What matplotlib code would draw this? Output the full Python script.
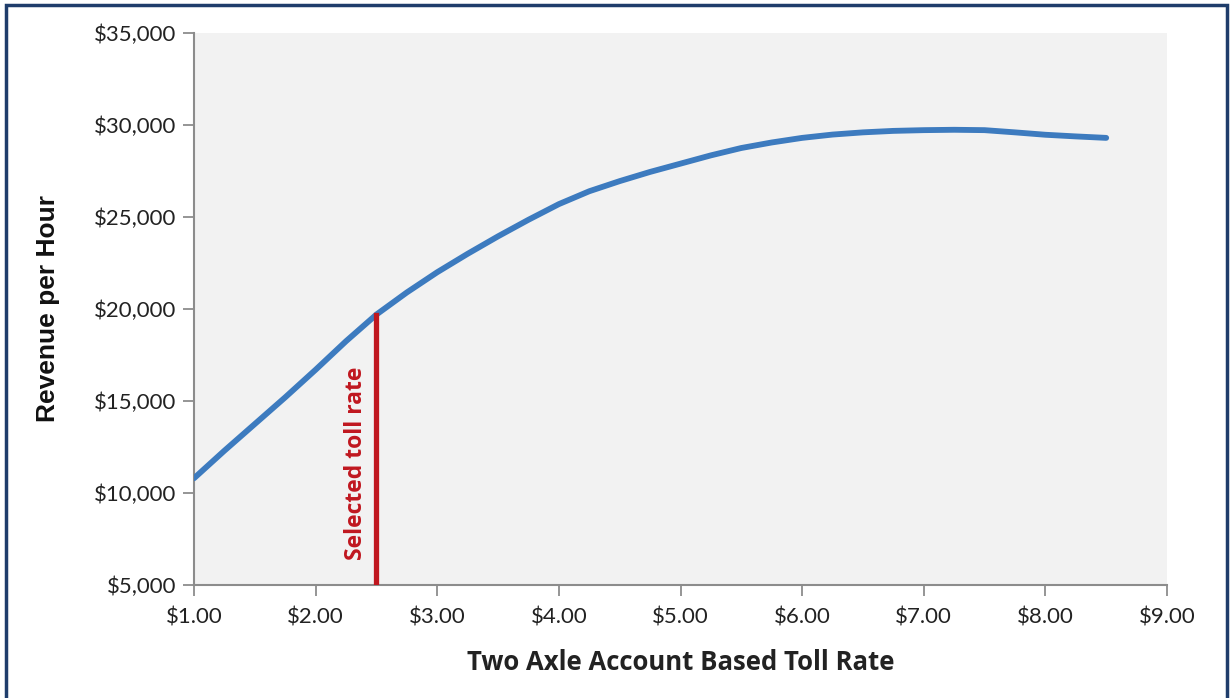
import matplotlib.pyplot as plt
from matplotlib.patches import Rectangle
from matplotlib.ticker import FuncFormatter

toll_rate = [1.00, 1.25, 1.50, 1.75, 2.00, 2.25, 2.50, 2.75, 3.00, 3.25, 3.50, 3.75,
             4.00, 4.25, 4.50, 4.75, 5.00, 5.25, 5.50, 5.75, 6.00, 6.25, 6.50, 6.75,
             7.00, 7.25, 7.50, 7.75, 8.00, 8.25, 8.50]
revenue = [10800, 12300, 13750, 15200, 16700, 18250, 19700, 20900, 22000, 23000, 23950, 24850,
           25700, 26400, 26950, 27450, 27900, 28350, 28750, 29050, 29300, 29480, 29600, 29680,
           29720, 29740, 29720, 29600, 29470, 29380, 29300]
selected_rate = 2.5
selected_revenue = revenue[toll_rate.index(selected_rate)]

line_color = "#3D7BBF"
red = "#C0171F"
tick_font = "Lato"

fig = plt.figure(figsize=(12.3, 6.98), dpi=100)
ax = fig.add_axes([194 / 1230, 1 - 585 / 698, (1167 - 194) / 1230, (585 - 33) / 698])
ax.set_facecolor("#F2F2F2")

ax.plot(toll_rate, revenue, color=line_color, lw=4.2, solid_capstyle="round",
        solid_joinstyle="round", zorder=3)
ax.plot([selected_rate, selected_rate], [5000, selected_revenue], color=red, lw=3.8, zorder=4)
ax.text(2.33, 11600, "Selected toll rate", rotation=90, color=red, fontsize=16.5,
        fontweight="bold", family="Open Sans", ha="center", va="center")

ax.set_xlim(1, 9)
ax.set_ylim(5000, 35000)
ax.set_xticks(range(1, 10))
ax.set_yticks(range(5000, 35001, 5000))
ax.xaxis.set_major_formatter(FuncFormatter(lambda v, p: f"${v:.2f}"))
ax.yaxis.set_major_formatter(FuncFormatter(lambda v, p: f"${v:,.0f}"))

for side in ["top", "right"]:
    ax.spines[side].set_visible(False)
for side in ["left", "bottom"]:
    ax.spines[side].set_color("#8C8C8C")
    ax.spines[side].set_linewidth(1.5)
ax.tick_params(axis="both", colors="#8C8C8C", length=8, width=1.3, direction="out",
               labelcolor="#222222", labelsize=16)
ax.tick_params(axis="x", pad=8)
ax.tick_params(axis="y", pad=5)
for lab in ax.get_xticklabels() + ax.get_yticklabels():
    lab.set_family(tick_font)

ax.set_xlabel("Two Axle Account Based Toll Rate", fontsize=18.5, fontweight="bold",
              family="Open Sans", color="#222222", labelpad=16)
ax.set_ylabel("Revenue per Hour", fontsize=19, fontweight="bold",
              family="Liberation Sans", color="#111111", labelpad=24)

fig.patches.append(Rectangle((6 / 1230, -0.02), 1221 / 1230, 1.02 - 5 / 698,
                             transform=fig.transFigure, fill=False,
                             edgecolor="#1F3D6B", lw=2.5))

fig.savefig("out.png", dpi=100)
